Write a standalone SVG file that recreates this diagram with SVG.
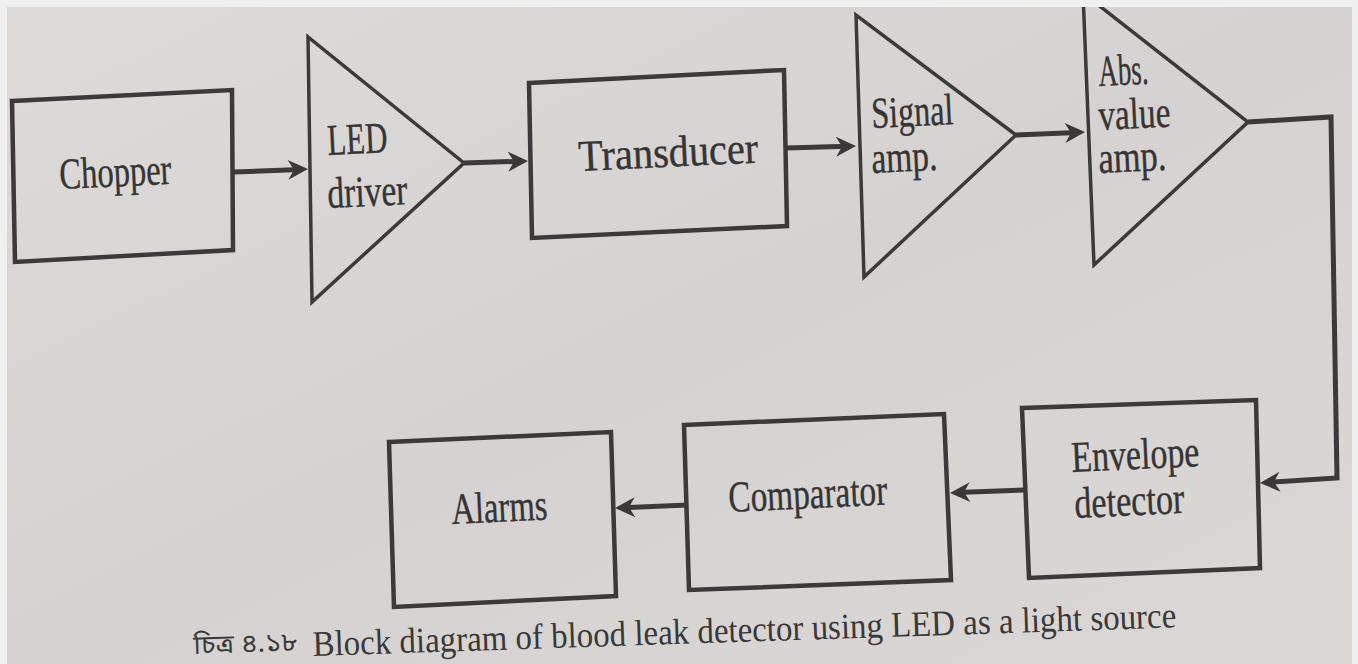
<svg xmlns="http://www.w3.org/2000/svg" width="1358" height="664" viewBox="0 0 1358 664">
<defs>
  <linearGradient id="paper" x1="0" y1="0" x2="1" y2="1">
    <stop offset="0" stop-color="#dddad8"/>
    <stop offset="0.5" stop-color="#d6d2d1"/>
    <stop offset="1" stop-color="#dad7d5"/>
  </linearGradient>
  <marker id="arr" viewBox="0 0 10 10" refX="6" refY="5" markerWidth="22" markerHeight="20" markerUnits="userSpaceOnUse" orient="auto">
    <path d="M0,0 L10,5 L0,10 L3,5 z" fill="#3a3838"/>
  </marker>
  <style>
    .box { fill: none; stroke: #3b3939; stroke-width: 4.5; stroke-linejoin: miter; }
    .amp { fill: none; stroke: #3b3939; stroke-width: 3.5; stroke-linejoin: miter; }
    .lbl { font-family: "Liberation Serif", "Times New Roman", serif; font-size: 44px; fill: #363434; stroke: #363434; stroke-width: 0.4; }
    .cap { font-family: "Liberation Serif", "Times New Roman", serif; font-size: 36px; fill: #3a3838; }
    .capb { font-family: "Noto Sans Bengali", "Noto Serif Bengali", "Lohit Bengali", "Liberation Serif", sans-serif; font-size: 26px; fill: #3a3838; }
    .wire { fill: none; stroke: #3b3939; stroke-width: 5; stroke-linejoin: miter; }
  </style>
</defs>
<rect x="0" y="0" width="1358" height="664" fill="url(#paper)"/>

<g id="connectors">
  <path class="wire" d="M234,172 L300,169.4" marker-end="url(#arr)"/>
  <path class="wire" d="M464,163 L520,161.3" marker-end="url(#arr)"/>
  <path class="wire" d="M786,148 L848,146.3" marker-end="url(#arr)"/>
  <path class="wire" d="M1016,135 L1077,132.4" marker-end="url(#arr)"/>
  <path class="wire" d="M1248,122 L1331,117 L1337,478 L1268,482.5" marker-end="url(#arr)"/>
  <path class="wire" d="M1024,490 L958,492.6" marker-end="url(#arr)"/>
  <path class="wire" d="M688,505 L623,507.7" marker-end="url(#arr)"/>
</g>

<g id="chopper">
  <polygon class="box" points="12,101 232,90 233,250 15,262"/>
  <text class="lbl" x="60" y="189" textLength="112" lengthAdjust="spacingAndGlyphs" transform="rotate(-2.7 60 189)">Chopper</text>
</g>

<g id="led-driver">
  <polygon class="amp" points="308,37 312,302 464,163"/>
  <text class="lbl" x="328" y="155" textLength="60" lengthAdjust="spacingAndGlyphs" transform="rotate(-2.7 328 155)">LED</text>
  <text class="lbl" x="328" y="208" textLength="80" lengthAdjust="spacingAndGlyphs" transform="rotate(-2.7 328 208)">driver</text>
</g>

<g id="transducer">
  <polygon class="box" points="529,83 784,70 787,226 532,238"/>
  <text class="lbl" x="579" y="171" textLength="180" lengthAdjust="spacingAndGlyphs" transform="rotate(-2.7 579 171)">Transducer</text>
</g>

<g id="signal-amp">
  <polygon class="amp" points="856,15 864,277 1016,135"/>
  <text class="lbl" x="872" y="128" textLength="82" lengthAdjust="spacingAndGlyphs" transform="rotate(-2.7 872 128)">Signal</text>
  <text class="lbl" x="872" y="173" textLength="66" lengthAdjust="spacingAndGlyphs" transform="rotate(-2.7 872 173)">amp.</text>
</g>

<g id="abs-value-amp">
  <polygon class="amp" points="1083,-7 1094,265 1248,122"/>
  <text class="lbl" x="1099" y="86" textLength="50" lengthAdjust="spacingAndGlyphs" transform="rotate(-2.7 1099 86)">Abs.</text>
  <text class="lbl" x="1099" y="130" textLength="72" lengthAdjust="spacingAndGlyphs" transform="rotate(-2.7 1099 130)">value</text>
  <text class="lbl" x="1099" y="173" textLength="68" lengthAdjust="spacingAndGlyphs" transform="rotate(-2.7 1099 173)">amp.</text>
</g>

<g id="envelope-detector">
  <polygon class="box" points="1022,408 1256,400 1260,568 1029,578"/>
  <text class="lbl" x="1072" y="472" textLength="128" lengthAdjust="spacingAndGlyphs" transform="rotate(-2.7 1072 472)">Envelope</text>
  <text class="lbl" x="1075" y="518" textLength="110" lengthAdjust="spacingAndGlyphs" transform="rotate(-2.7 1075 518)">detector</text>
</g>

<g id="comparator">
  <polygon class="box" points="684,425 944,414 951,580 689,590"/>
  <text class="lbl" x="729" y="512" textLength="159" lengthAdjust="spacingAndGlyphs" transform="rotate(-2.7 729 512)">Comparator</text>
</g>

<g id="alarms">
  <polygon class="box" points="389,442 611,432 616,596 394,607"/>
  <text class="lbl" x="452" y="524" textLength="96" lengthAdjust="spacingAndGlyphs" transform="rotate(-2.7 452 524)">Alarms</text>
</g>

<g id="caption">
  <text class="capb" x="194" y="650" textLength="104" lengthAdjust="spacingAndGlyphs" transform="rotate(-1.9 313 656)">চিত্র ৪.১৮</text>
  <text class="cap" x="313" y="656" textLength="864" lengthAdjust="spacingAndGlyphs" transform="rotate(-1.9 313 656)">Block diagram of blood leak detector using LED as a light source</text>
</g>

<g id="border">
  <rect x="0" y="0" width="1358" height="7" fill="#f0f0f0"/>
  <rect x="0" y="0" width="7" height="664" fill="#f0f0f0"/>
  <rect x="1352" y="0" width="6" height="664" fill="#f0f0f0"/>
</g>
</svg>
